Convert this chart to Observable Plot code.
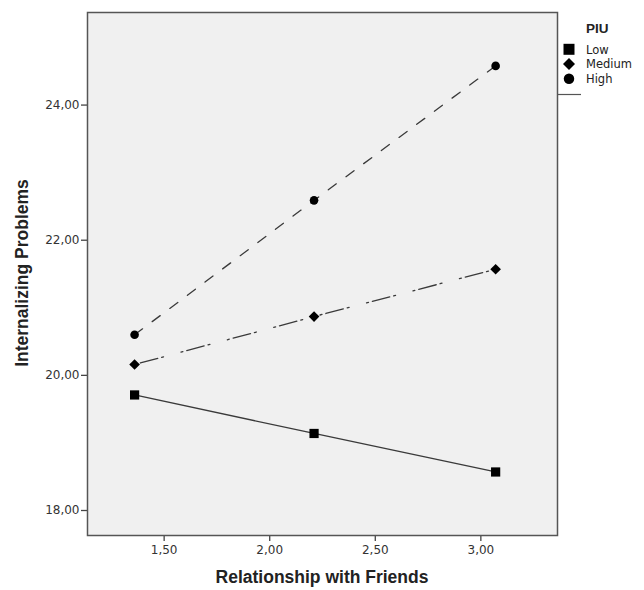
<!DOCTYPE html>
<html>
<head>
<meta charset="utf-8">
<script src="https://cdn.jsdelivr.net/npm/d3@7"></script>
<script src="https://cdn.jsdelivr.net/npm/@observablehq/plot@0.6"></script>
<style>
  html, body { margin: 0; padding: 0; background: #fff; }
  #chart { width: 644px; height: 590px; }
</style>
</head>
<body>
<div id="chart"></div>
<script>
// ---- data ----
const groups = ["Low", "Medium", "High"];
const xValues = [1.36, 2.21, 3.07];
const lowValues = [19.71, 19.14, 18.57];
const mediumValues = [20.16, 20.87, 21.57];
const highValues = [20.60, 22.59, 24.58];
const xTicks = [1.5, 2.0, 2.5, 3.0];
const yTicks = [18, 20, 22, 24];
const legendTitle = "PIU";
const xTitle = "Relationship with Friends";
const yTitle = "Internalizing Problems";

const seriesValues = { Low: lowValues, Medium: mediumValues, High: highValues };
const data = groups.flatMap(g => xValues.map((x, i) => ({ group: g, x, y: seriesValues[g][i] })));

// ---- styles ----
const symbolOf = { Low: "square", Medium: "diamond2", High: "circle" };
const rOf = { Low: 5.2, Medium: 4.8, High: 4.3 };
const dashOf = { Low: null, Medium: "2,4,18,4,2,18", High: "10,12" };
const legendSize = { Low: 121, Medium: 92, High: 86 };
const d3Sym = { Low: d3.symbolSquare, Medium: d3.symbolDiamond2, High: d3.symbolCircle };

const fmt = d => d3.format(".2f")(d).replace(".", ",");

const chart = Plot.plot({
  width: 644,
  height: 590,
  marginLeft: 87,
  marginRight: 87,
  marginTop: 12,
  marginBottom: 55,
  style: { fontFamily: "DejaVu Sans", color: "#333", background: "#fff", overflow: "visible" },
  x: { domain: [1.137, 3.363] },
  y: { domain: [17.63, 25.37] },
  marks: [
    Plot.frame({ fill: "#f0f0f0" }),
    Plot.axisX({ ticks: xTicks, tickFormat: fmt, tickSize: 6, tickPadding: 4, fontSize: 12, label: null, stroke: "#444", strokeWidth: 1.3 }),
    Plot.axisY({ ticks: yTicks, tickFormat: fmt, tickSize: 6, tickPadding: 2, fontSize: 12, label: null, stroke: "#444", strokeWidth: 1.3 }),
    ...groups.map(g => Plot.line(data.filter(d => d.group === g), {
      x: "x", y: "y", stroke: "#3a3a3a", strokeWidth: 1.3, strokeDasharray: dashOf[g]
    })),
    ...groups.map(g => Plot.dot(data.filter(d => d.group === g), {
      x: "x", y: "y", symbol: symbolOf[g], r: rOf[g], fill: "#000", stroke: "none"
    })),
    Plot.frame({ stroke: "#555", strokeWidth: 1.5 })
  ]
});

const svg = d3.select(chart);

// axis titles
svg.append("text")
  .attr("x", 322).attr("y", 583)
  .attr("text-anchor", "middle")
  .style("font", "bold 17.5px 'Liberation Sans'")
  .attr("fill", "#222")
  .text(xTitle);

svg.append("text")
  .attr("transform", "translate(28,273) rotate(-90)")
  .attr("text-anchor", "middle")
  .style("font", "bold 17.5px 'Liberation Sans'")
  .attr("fill", "#222")
  .text(yTitle);

// legend
const lg = svg.append("g").attr("text-anchor", "start");
lg.append("text")
  .attr("x", 586).attr("y", 33)
  .attr("text-anchor", "start")
  .style("font", "bold 13.5px 'Liberation Sans'")
  .attr("fill", "#222")
  .text(legendTitle);
const ys = [49.3, 64, 78.7];
groups.forEach((g, i) => {
  lg.append("path")
    .attr("d", d3.symbol(d3Sym[g], legendSize[g])())
    .attr("transform", `translate(569,${ys[i]})`)
    .attr("fill", "#000");
  lg.append("text")
    .attr("x", 586).attr("y", ys[i] + 4.2)
    .attr("text-anchor", "start")
    .style("font", "11.5px 'DejaVu Sans'")
    .attr("fill", "#222")
    .text(g);
});
lg.append("line")
  .attr("x1", 557).attr("x2", 581).attr("y1", 94.5).attr("y2", 94.5)
  .attr("stroke", "#555").attr("stroke-width", 1.2);

document.getElementById("chart").appendChild(chart);
</script>
</body>
</html>
